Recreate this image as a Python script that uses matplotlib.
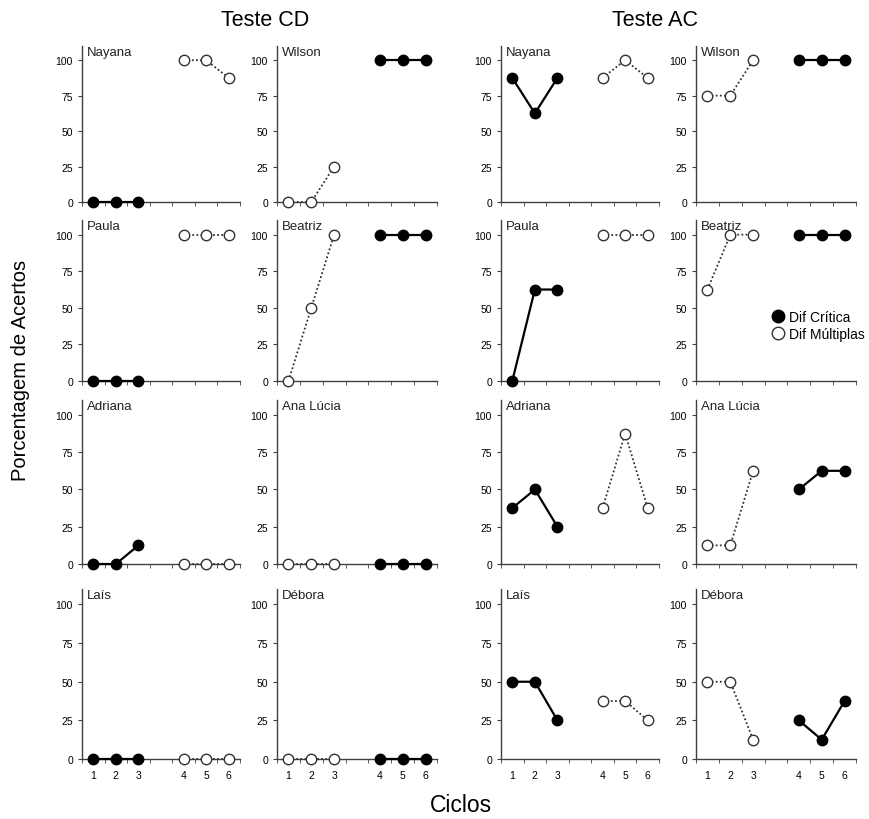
import matplotlib
matplotlib.use('Agg')
from matplotlib import pyplot as plt

plt.rcParams['font.family'] = ['Liberation Sans', 'DejaVu Sans']

# participantes, na ordem dos paineis (linha por linha, par esquerdo / par direito)
nomes = [['Nayana', 'Wilson'],
         ['Paula', 'Beatriz'],
         ['Adriana', 'Ana Lúcia'],
         ['Laís', 'Débora']]

# categorias do eixo x (a 4a categoria fica vazia)
ciclos = ['1', '2', '3', '', '4', '5', '6']
pos_a = [1, 2, 3]
pos_b = [5, 6, 7]

# Teste CD: (ciclos 1-3, ciclos 4-6); a coluna da direita começa com Dif Múltiplas
cd_1a3 = {'Nayana': [0, 0, 0], 'Wilson': [0, 0, 25],
          'Paula': [0, 0, 0], 'Beatriz': [0, 50, 100],
          'Adriana': [0, 0, 12.5], 'Ana Lúcia': [0, 0, 0],
          'Laís': [0, 0, 0], 'Débora': [0, 0, 0]}
cd_4a6 = {'Nayana': [100, 100, 87.5], 'Wilson': [100, 100, 100],
          'Paula': [100, 100, 100], 'Beatriz': [100, 100, 100],
          'Adriana': [0, 0, 0], 'Ana Lúcia': [0, 0, 0],
          'Laís': [0, 0, 0], 'Débora': [0, 0, 0]}

# Teste AC
ac_1a3 = {'Nayana': [87.5, 62.5, 87.5], 'Wilson': [75, 75, 100],
          'Paula': [0, 62.5, 62.5], 'Beatriz': [62.5, 100, 100],
          'Adriana': [37.5, 50, 25], 'Ana Lúcia': [12.5, 12.5, 62.5],
          'Laís': [50, 50, 25], 'Débora': [50, 50, 12.5]}
ac_4a6 = {'Nayana': [87.5, 100, 87.5], 'Wilson': [100, 100, 100],
          'Paula': [100, 100, 100], 'Beatriz': [100, 100, 100],
          'Adriana': [37.5, 87.5, 37.5], 'Ana Lúcia': [50, 62.5, 62.5],
          'Laís': [37.5, 37.5, 25], 'Débora': [25, 12.5, 37.5]}

W, H = 869, 820
fig = plt.figure(figsize=(W / 100, H / 100), dpi=100)

# limites dos paineis em pixels
colunas = [(82, 240), (277, 437), (501, 659), (696, 856)]
linhas = [(47, 203), (221, 382), (401, 565), (590, 760)]

cinza = '#404040'


def linha_critica(ax, x, y, label=None):
    ax.plot(x, y, '-', color='black', lw=1.6, marker='o', ms=7.5,
            mfc='black', mec='black', label=label, zorder=3)


def linha_multipla(ax, x, y, label=None):
    ax.plot(x, y, color='#333333', lw=1.3, ls=(0, (1, 1.3)), marker='o', ms=7.5,
            mfc='white', mec='#333333', mew=1.0, label=label, zorder=3)


for r in range(4):
    for c in range(4):
        x0, x1 = colunas[c]
        t0, t1 = linhas[r]
        ax = fig.add_axes([x0 / W, 1 - t1 / H, (x1 - x0) / W, (t1 - t0) / H])
        nome = nomes[r][c % 2]
        if c < 2:
            a, b = cd_1a3[nome], cd_4a6[nome]
        else:
            a, b = ac_1a3[nome], ac_4a6[nome]
        if c % 2 == 0:
            linha_critica(ax, pos_a, a, 'Dif Crítica')
            linha_multipla(ax, pos_b, b, 'Dif Múltiplas')
        else:
            linha_multipla(ax, pos_a, a, 'Dif Múltiplas')
            linha_critica(ax, pos_b, b, 'Dif Crítica')

        ax.set_xlim(0.5, 7.5)
        ax.set_ylim(0, 110)
        ax.set_yticks([0, 25, 50, 75, 100])
        ax.set_xticks(range(1, 8))
        ax.set_xticks([i + 0.5 for i in range(0, 8)], minor=True)
        if r == 3:
            ax.set_xticklabels(ciclos)
        else:
            ax.set_xticklabels([])
        ax.tick_params(axis='x', which='major', length=0, labelsize=7.5, pad=8)
        ax.tick_params(axis='x', which='minor', length=3, color=cinza, direction='out')
        ax.tick_params(axis='y', length=3, color=cinza, labelsize=7.5, direction='out')
        for s in ['top', 'right']:
            ax.spines[s].set_visible(False)
        for s in ['left', 'bottom']:
            ax.spines[s].set_color(cinza)
            ax.spines[s].set_linewidth(1.0)
        for ln in ax.lines:
            ln.set_clip_on(False)
        ax.text(0.03, 1.0, nome, transform=ax.transAxes, va='top', ha='left',
                fontsize=9.5, color='#222222')

        if r == 1 and c == 3:
            h, l = ax.get_legend_handles_labels()
            leg = ax.legend(h[::-1], l[::-1], loc='center left',
                            bbox_to_anchor=(0.48, 0.345), frameon=False,
                            fontsize=10, handlelength=0.8, handletextpad=0.4,
                            labelspacing=0.25, borderaxespad=0, borderpad=0,
                            markerscale=1.2)
            for lh in leg.get_lines():
                lh.set_linestyle('none')

fig.text(265 / W, 1 - 21 / H, 'Teste CD', ha='center', va='center', fontsize=15.5)
fig.text(655 / W, 1 - 21 / H, 'Teste AC', ha='center', va='center', fontsize=15.5)
fig.text(21 / W, 1 - 370 / H, 'Porcentagem de Acertos', ha='center', va='center',
         rotation=90, fontsize=14.5)
fig.text(461 / W, 1 - 806 / H, 'Ciclos', ha='center', va='center', fontsize=16.5)

fig.savefig('out.png', dpi=100)
